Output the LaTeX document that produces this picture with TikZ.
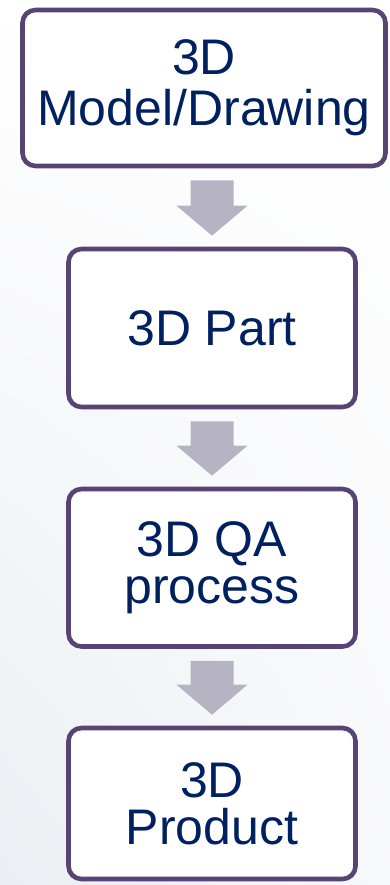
\documentclass[tikz,border=0pt]{standalone}
\usepackage{fontspec}
\setmainfont{Liberation Sans}
\usetikzlibrary{calc,shadings}
\definecolor{boxborder}{HTML}{574474}
\definecolor{txtc}{HTML}{002060}
\definecolor{arrowc}{HTML}{B6B3C3}
\definecolor{bgc}{HTML}{ECEEF3}
\tikzset{
  stepbox/.style={draw=boxborder, line width=4.6pt, fill=white, rounded corners=13pt,
    inner sep=0pt, align=center, text=txtc,
    font=\fontsize{50}{47}\selectfont},
  blockarrow/.style={to path={
    let \p1=(\tikztostart.south), \p2=(\tikztotarget.north) in
    (\x2-21.5pt,\y1-12pt) -- (\x2+21.5pt,\y1-12pt) -- (\x2+21.5pt,\y2+41pt)
    -- (\x2+35.5pt,\y2+41pt) -- (\x2,\y2+11pt) -- (\x2-35.5pt,\y2+41pt)
    -- (\x2-21.5pt,\y2+41pt) -- cycle}}
}
\begin{document}
\begin{tikzpicture}[x=1pt,y=-1pt]
\useasboundingbox (0,0) rectangle (390,885);
\shade[upper left=white, upper right=white, lower left=bgc, lower right=bgc!40!white] (0,0) rectangle (390,885);
\node[stepbox, minimum width=363pt, minimum height=156pt,
  font=\fontsize{50}{51}\selectfont] (b1) at (204,88) {3D\\Model/Drawing};
\node[stepbox, minimum width=287pt, minimum height=158pt] (b2) at (212,328) {3D Part};
\node[stepbox, minimum width=287pt, minimum height=157.5pt] (b3) at (212,567.75) {3D QA\\process};
\node[stepbox, minimum width=287pt, minimum height=151pt] (b4) at (212,803.5) {3D\\Product};
\path[fill=arrowc] (b1) to[blockarrow] (b2);
\path[fill=arrowc] (b2) to[blockarrow] (b3);
\path[fill=arrowc] (b3) to[blockarrow] (b4);
\end{tikzpicture}
\end{document}
